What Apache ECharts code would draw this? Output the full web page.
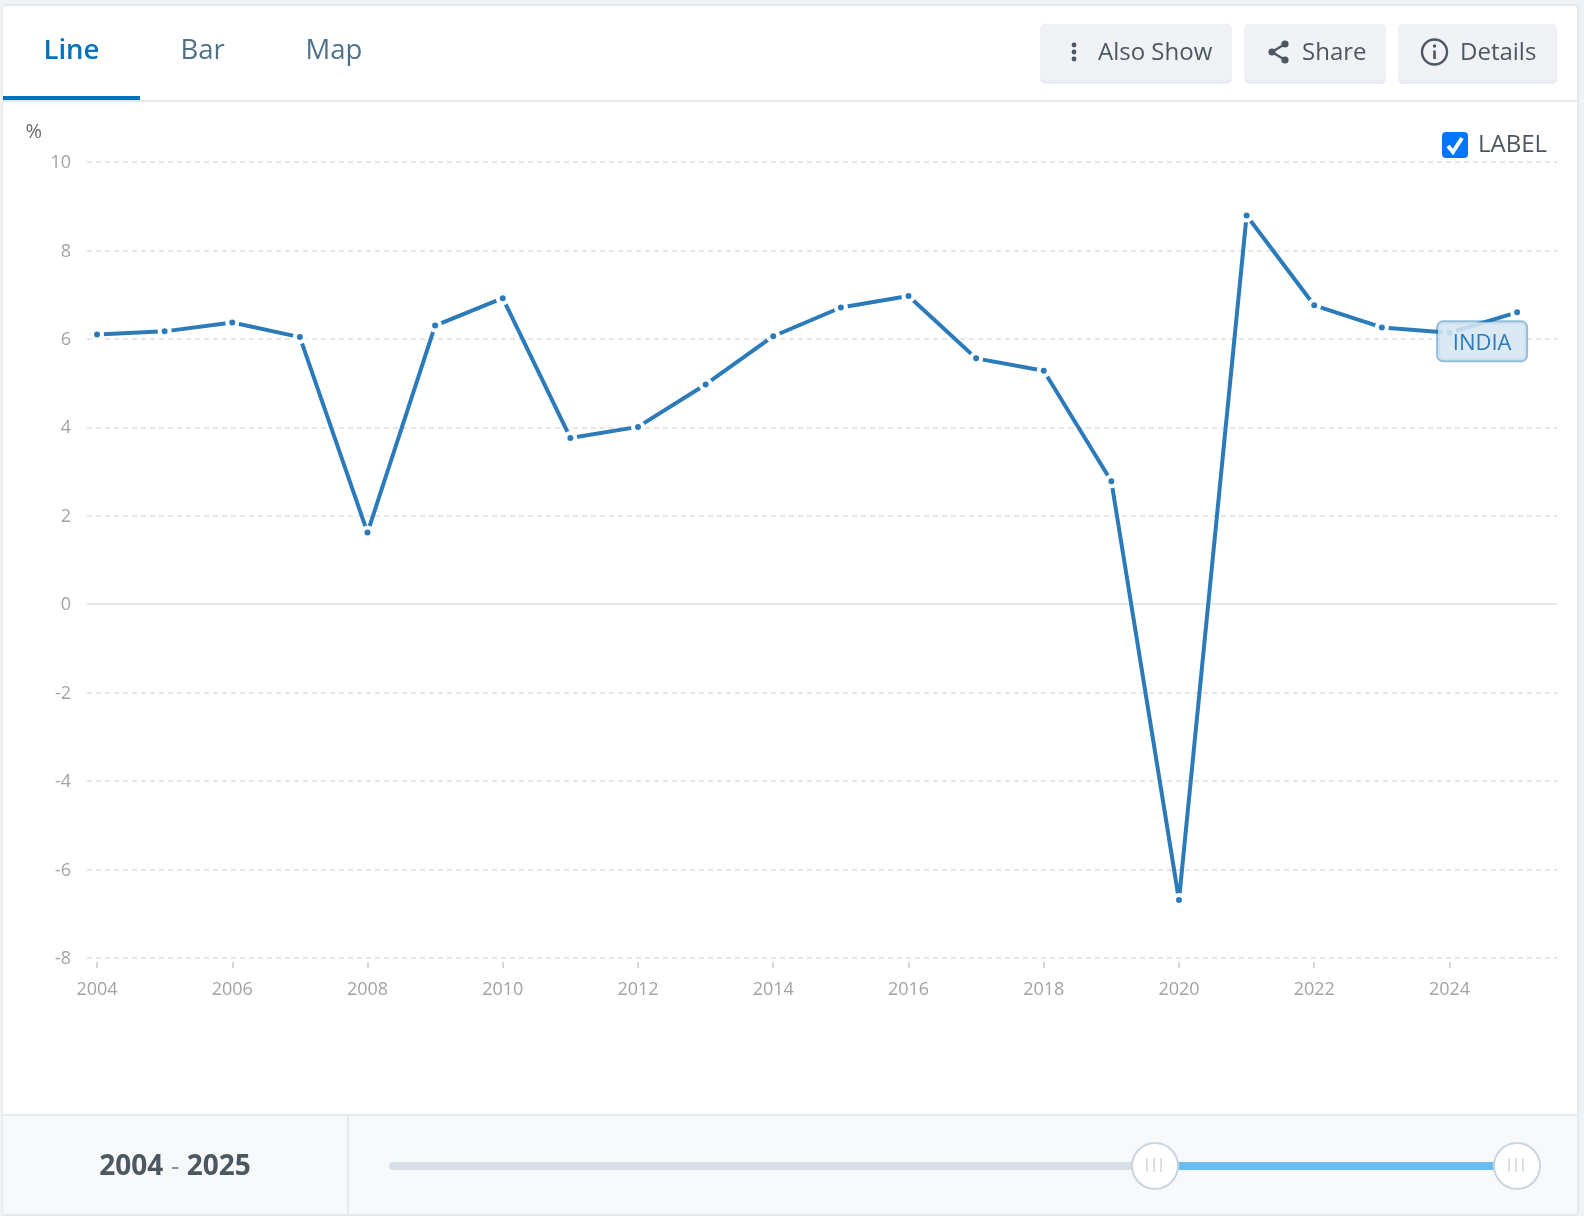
<!DOCTYPE html>
<html>
<head>
<meta charset="utf-8">
<style>html,body{margin:0;padding:0;background:#f0f2f5}#c{width:1584px;height:1216px}</style>
<script src="https://cdn.jsdelivr.net/npm/echarts@6/dist/echarts.min.js"></script>
</head>
<body>
<div id="c"></div>
<script>
const years = [2004,2005,2006,2007,2008,2009,2010,2011,2012,2013,2014,2015,2016,2017,2018,2019,2020,2021,2022,2023,2024,2025];
const growth = [6.10,6.17,6.37,6.04,1.62,6.30,6.92,3.76,4.01,4.97,6.06,6.71,6.97,5.56,5.28,2.78,-6.69,8.79,6.76,6.26,6.14,6.60];
const xTickYears = [2004,2006,2008,2010,2012,2014,2016,2018,2020,2022,2024];
const seriesName = 'INDIA';
const unitLabel = '%';
const rangeFrom = '2004';
const rangeTo = '2025';
const FONT = '"Open Sans", sans-serif';
const LINE = '#2b7bba';
const INK = '#4d5761';
const BORDER = '#e4e9ee';

function rect(x,y,w,h,fill,r,z){return {type:'rect',silent:true,z:z===undefined?-10:z,shape:{x,y,width:w,height:h,r:r||0},style:{fill}};}
function txt(x,y,text,size,fill,weight,align){return {type:'text',silent:true,z:5,x,y,style:{text,fontFamily:FONT,fontSize:size,fill,fontWeight:weight||400,align:align||'left',verticalAlign:'middle'}};}
function circle(cx,cy,r,fill,stroke,lw,z){return {type:'circle',silent:true,z:z===undefined?5:z,shape:{cx,cy,r},style:{fill:fill||'transparent',stroke:stroke||null,lineWidth:lw||0}};}
function seg(x1,y1,x2,y2,stroke,lw,z){return {type:'line',silent:true,z:z===undefined?5:z,shape:{x1,y1,x2,y2},style:{stroke,lineWidth:lw}};}

const chrome = [
  rect(2,4,1577,1212,BORDER,4,-12),
  rect(3,6,1574,1208,'#ffffff',3,-11),
  // tabs
  rect(3,100,1574,2,BORDER,0,-9),
  rect(3,96,137,4,'#0071bc',0,-8),
  txt(43.5,51,'Line',27.5,'#0071bc',600),
  txt(180.5,51,'Bar',27.5,'#4f718a'),
  txt(305.5,51,'Map',27.5,'#4f718a'),
  // buttons
  rect(1040,24,192,60,'#e9ecf0',5,-8), rect(1040,24,192,56,'#f0f2f6',5,-7),
  rect(1244,24,142,60,'#e9ecf0',5,-8), rect(1244,24,142,56,'#f0f2f6',5,-7),
  rect(1398,24,159,60,'#e9ecf0',5,-8), rect(1398,24,159,56,'#f0f2f6',5,-7),
  txt(1098,53.5,'Also Show',24,INK),
  txt(1302,53.5,'Share',24,INK),
  txt(1460,53.5,'Details',24,INK),
  circle(1074,45,2.4,INK), circle(1074,52,2.4,INK), circle(1074,59,2.4,INK),
  seg(1285,44,1272,52,INK,2.2), seg(1285,60,1272,52,INK,2.2),
  circle(1285,44,3.6,INK), circle(1285,60,3.6,INK), circle(1272,52,3.6,INK),
  circle(1434.5,52,12.5,'transparent',INK,2.4),
  circle(1434.5,46,1.7,INK), seg(1434.5,50.5,1434.5,59,INK,2.6),
  // checkbox
  rect(1442,132,26,26,'#0075ff',4,5),
  {type:'polyline',silent:true,z:6,shape:{points:[[1448,146],[1453,152],[1462,138]]},style:{stroke:'#fff',fill:null,lineWidth:4}},
  txt(1478,145,'LABEL',24,INK),
  // footer
  rect(3,1114,1574,100,'#f7f9fb',0,-9),
  rect(3,1114,1574,2,BORDER,0,-8),
  rect(347,1116,2,98,BORDER,0,-8),
  {type:'text',silent:true,z:5,x:175,y:1167,style:{
    text:'{b|'+rangeFrom+'} {m|-} {b|'+rangeTo+'}',align:'center',verticalAlign:'middle',
    rich:{b:{fontFamily:FONT,fontSize:28,fontWeight:700,fill:INK},m:{fontFamily:FONT,fontSize:27,fontWeight:400,fill:'#8a9299',padding:[0,4,0,4]}}}},
  // range slider
  rect(389,1162,770,8,'#d9dfe7',4,1),
  rect(1155,1162,362,8,'#6bbcef',0,1),
];
[1155,1517].forEach(cx=>{
  chrome.push(circle(cx,1166,23,'#ffffff','#cbd5de',2,3));
  [-8,-1,6].forEach(d=>chrome.push(seg(cx+d,1158,cx+d,1172,'#dcdfe3',2,4)));
});

const chart = echarts.init(document.getElementById('c'),null,{renderer:'canvas'});
chart.setOption({
  animation:false,
  backgroundColor:'#f0f2f5',
  textStyle:{fontFamily:FONT},
  graphic:{elements:chrome},
  grid:{left:87,right:27,top:162,bottom:258,containLabel:false},
  xAxis:{
    type:'value',min:2003.852,max:2025.59,offset:4,
    axisLine:{show:false,onZero:false},
    splitLine:{show:false},
    axisTick:{show:true,length:6,lineStyle:{color:'#d5d5d5',width:2},customValues:xTickYears},
    axisLabel:{color:'#a3a3a3',fontSize:18,fontFamily:FONT,margin:19,customValues:xTickYears,formatter:v=>String(v)}
  },
  yAxis:{
    type:'value',min:-8,max:10,interval:2,
    name:unitLabel,nameLocation:'end',nameGap:20,
    nameTextStyle:{color:'#6b6b6b',fontSize:20,fontFamily:FONT,align:'right',padding:[0,45,0,0]},
    axisLine:{show:false},axisTick:{show:false},
    axisLabel:{margin:16,formatter:v=>'{v|'+v+'}',
      rich:{v:{color:'#a3a3a3',fontSize:18,fontFamily:FONT,padding:[2,0,0,0]}}},
    splitLine:{show:true,lineStyle:{color:'#e6e6e6',width:2,type:[5,4]}}
  },
  series:[{
    type:'line',name:seriesName,
    data:years.map((y,i)=>{
      const d={value:[y,growth[i]]};
      if(i===years.length-1){
        d.label={show:true,position:'inside',offset:[-35,29],formatter:'{a|'+seriesName+'}',
          backgroundColor:'rgba(214,230,242,0.88)',borderColor:'rgba(43,123,186,0.5)',borderWidth:2,borderRadius:5,
          width:88,height:38,align:'center',verticalAlign:'middle',
          rich:{a:{color:LINE,fontSize:22,fontFamily:FONT,padding:[10,0,0,0]}}};
      }
      return d;
    }),
    clip:false,
    symbol:'circle',symbolSize:10,showAllSymbol:true,
    lineStyle:{color:LINE,width:4},
    itemStyle:{color:LINE,borderColor:'#ffffff',borderWidth:4},
    markLine:{silent:true,symbol:'none',label:{show:false},animation:false,z:0,
      lineStyle:{color:'#e6e9ec',width:2,type:'solid'},data:[{yAxis:0}]}
  }]
});
</script>
</body>
</html>
